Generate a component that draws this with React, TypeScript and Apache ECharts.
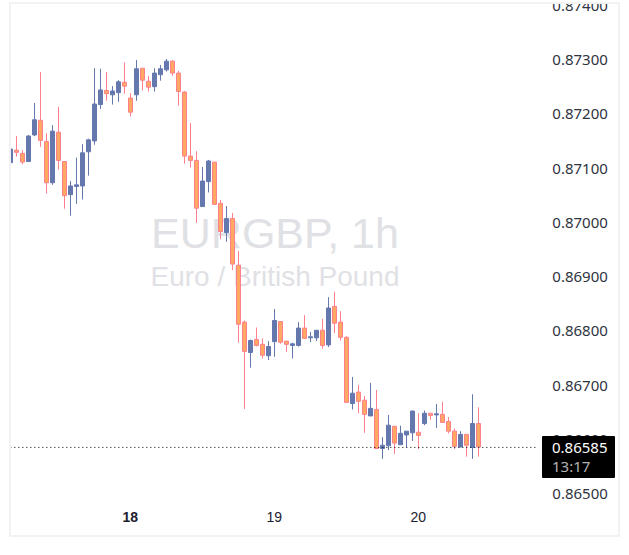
import { useEffect, useRef } from "react";
import * as echarts from "echarts";

const dayLabels: Record<number, string> = { 20: "18", 44: "19", 68: "20" };
const slotCount = 89;

const opens = [
  0.87109, 0.87132, 0.87126, 0.87111, 0.8716, 0.87187, 0.87148, 0.87072, 0.87165, 0.87111,
  0.8705, 0.87065, 0.87066, 0.87129, 0.87149, 0.87216, 0.87242, 0.87234, 0.87238, 0.87257,
  0.87228, 0.87234, 0.87283, 0.87259, 0.87249, 0.87271, 0.8728, 0.87296, 0.87274, 0.87239,
  0.87121, 0.87113, 0.87028, 0.87074, 0.8711, 0.87034, 0.8698, 0.87006, 0.8692, 0.86815,
  0.86759, 0.86783, 0.86774, 0.86753, 0.86779, 0.86816, 0.8678, 0.86772, 0.86772, 0.86804,
  0.86786, 0.86786, 0.868, 0.86773, 0.86844, 0.86815, 0.86787, 0.86665, 0.86686, 0.86671,
  0.86642, 0.86654, 0.86582, 0.86587, 0.86623, 0.86589, 0.86607, 0.86611, 0.86612, 0.86628,
  0.86647, 0.86644, 0.86645, 0.86632, 0.86614, 0.86585, 0.86608, 0.86584, 0.86628,
];
const closes = [
  0.87134, 0.87128, 0.8711, 0.87158, 0.87188, 0.8715, 0.87072, 0.87167, 0.87113, 0.87048,
  0.87066, 0.87068, 0.87127, 0.87151, 0.87217, 0.87243, 0.87236, 0.87241, 0.87258, 0.8725,
  0.87202, 0.87282, 0.87261, 0.87248, 0.87274, 0.87282, 0.87296, 0.87274, 0.8724, 0.87121,
  0.87113, 0.87025, 0.87075, 0.87112, 0.87032, 0.86982, 0.87006, 0.86922, 0.86811, 0.86761,
  0.86781, 0.86772, 0.86754, 0.8677, 0.86818, 0.86778, 0.86774, 0.86775, 0.86804, 0.86785,
  0.86788, 0.868, 0.86772, 0.86841, 0.86813, 0.86787, 0.86667, 0.86684, 0.86669, 0.86645,
  0.86656, 0.86582, 0.86588, 0.86625, 0.86592, 0.8661, 0.86614, 0.86651, 0.86606, 0.86647,
  0.86643, 0.86646, 0.8663, 0.86614, 0.86586, 0.86608, 0.86588, 0.86628, 0.86585,
];
const lows = [
  0.87103, 0.8712, 0.87106, 0.87111, 0.87158, 0.87138, 0.87052, 0.87068, 0.87096, 0.87024,
  0.87011, 0.87033, 0.87041, 0.87085, 0.87142, 0.87208, 0.87223, 0.87216, 0.87221, 0.87236,
  0.87194, 0.87223, 0.87242, 0.8724, 0.8724, 0.8726, 0.87277, 0.87269, 0.87214, 0.87107,
  0.871, 0.86998, 0.87028, 0.87054, 0.87032, 0.86968, 0.86963, 0.86911, 0.86777, 0.86655,
  0.86731, 0.8677, 0.86748, 0.86745, 0.86751, 0.86775, 0.8676, 0.86748, 0.8677, 0.86785,
  0.86778, 0.8678, 0.86766, 0.86769, 0.86795, 0.86781, 0.86667, 0.86654, 0.86647, 0.86611,
  0.86642, 0.86582, 0.86563, 0.86579, 0.86572, 0.86589, 0.86584, 0.86596, 0.86581, 0.86625,
  0.86635, 0.8662, 0.8663, 0.8661, 0.86581, 0.86584, 0.86567, 0.86563, 0.86567,
];
const highs = [
  0.87158, 0.87158, 0.87132, 0.8716, 0.87219, 0.87276, 0.87163, 0.87178, 0.87212, 0.87111,
  0.87075, 0.87118, 0.87143, 0.87153, 0.87283, 0.87282, 0.87276, 0.8725, 0.87261, 0.87294,
  0.87237, 0.87298, 0.87283, 0.87269, 0.87283, 0.87289, 0.873, 0.87298, 0.87278, 0.87241,
  0.87182, 0.8713, 0.87101, 0.87114, 0.8711, 0.8704, 0.87029, 0.87016, 0.86946, 0.86818,
  0.86783, 0.86805, 0.86785, 0.8678, 0.86839, 0.86816, 0.8678, 0.86777, 0.86815, 0.86828,
  0.86797, 0.868, 0.86821, 0.86861, 0.86871, 0.86835, 0.86789, 0.86714, 0.86699, 0.86679,
  0.86703, 0.8669, 0.86603, 0.86644, 0.86623, 0.86624, 0.86614, 0.86652, 0.86647, 0.86652,
  0.86647, 0.86664, 0.86668, 0.8664, 0.86619, 0.86614, 0.86608, 0.86682, 0.86658,
];

const lastPrice = 0.86585;
// where the dotted line sits on the picture, a hair under the printed price
const lastPriceLine = 0.86584;
const countdown = "13:17";
const symbolText = "EURGBP, 1h";
const symbolName = "Euro / British Pound";

const PRICE_FONT = "'Noto Sans', sans-serif";
const AXIS_TEXT = "#2e3440";

export default function App() {
  const ref = useRef<HTMLDivElement>(null);

  useEffect(() => {
    if (!ref.current) return;
    const chart = echarts.init(ref.current, undefined, { renderer: "svg" });

    const slots = Array.from({ length: slotCount }, (_, i) => dayLabels[i] ?? "");

    chart.setOption({
      animation: false,
      backgroundColor: "#ffffff",
      grid: {
        left: 7.33,
        top: 4.75,
        width: 534,
        height: 488.25,
        outerBoundsMode: "none",
      },
      xAxis: {
        type: "category",
        data: slots,
        boundaryGap: true,
        axisLine: { show: false },
        axisTick: { show: false },
        splitLine: { show: false },
        axisLabel: {
          interval: (i: number) => dayLabels[i] !== undefined,
          margin: 17,
          fontSize: 14,
          fontFamily: "'Liberation Sans', sans-serif",
          color: "#1c2030",
          formatter: (v: string) => (v === "18" ? `{b|${v}}` : v),
          rich: {
            b: {
              fontSize: 14,
              fontWeight: "bold",
              fontFamily: "'Liberation Sans', sans-serif",
              color: "#1c2030",
            },
          },
        },
      },
      yAxis: {
        type: "value",
        position: "right",
        min: 0.865,
        max: 0.874,
        interval: 0.001,
        scale: true,
        axisLine: { show: false },
        axisTick: { show: false },
        splitLine: { show: false },
        axisLabel: {
          margin: 11,
          fontSize: 15,
          fontFamily: PRICE_FONT,
          color: AXIS_TEXT,
          padding: [0, 0, 2, 0],
          formatter: (v: number) => v.toFixed(5),
        },
      },
      series: [
        {
          type: "candlestick",
          barWidth: 4,
          silent: true,
          clip: false,
          data: opens.map((o, i) => [o, closes[i], lows[i], highs[i]]),
          itemStyle: {
            color: "#6478ae",
            borderColor: "#6478ae",
            color0: "#ffa861",
            borderColor0: "#ff7f8e",
            borderWidth: 1,
          },
        },
        {
          type: "line",
          silent: true,
          symbol: "none",
          data: slots.map(() => lastPriceLine),
          lineStyle: { color: "#000000", type: [1, 3], width: 1 },
        },
      ],
      graphic: [
        {
          type: "text",
          z: 0,
          x: 275,
          y: 233,
          style: {
            text: symbolText,
            fontSize: 43,
            fontFamily: "'Liberation Sans', sans-serif",
            fill: "#dfe1e5",
            align: "center",
            verticalAlign: "middle",
          },
        },
        {
          type: "text",
          z: 0,
          x: 275,
          y: 276,
          style: {
            text: symbolName,
            fontSize: 28,
            fontFamily: "'Liberation Sans', sans-serif",
            fill: "#dfe1e5",
            align: "center",
            verticalAlign: "middle",
          },
        },
        // page margin and pane border sit on top of the clipped first candle and top label
        { type: "rect", z: 100, shape: { x: 0, y: 0, width: 9, height: 555 }, style: { fill: "#ffffff" } },
        { type: "rect", z: 100, shape: { x: 0, y: 0, width: 629, height: 2 }, style: { fill: "#ffffff" } },
        {
          type: "rect",
          z: 101,
          shape: { x: 10, y: 3, width: 609, height: 533 },
          style: { fill: "transparent", stroke: "#f2f2f2", lineWidth: 2 },
        },
        {
          type: "rect",
          z: 102,
          shape: { x: 542, y: 436, width: 73, height: 42, r: 1 },
          style: { fill: "#000000" },
        },
        {
          type: "text",
          z: 103,
          x: 552,
          y: 447,
          style: {
            text: lastPrice.toFixed(5),
            fontSize: 15,
            fontFamily: PRICE_FONT,
            fill: "#ffffff",
            verticalAlign: "middle",
          },
        },
        {
          type: "text",
          z: 103,
          x: 552,
          y: 466,
          style: {
            text: countdown,
            fontSize: 15,
            fontFamily: PRICE_FONT,
            fill: "#b4b4b4",
            verticalAlign: "middle",
          },
        },
      ],
    });

    return () => chart.dispose();
  }, []);

  return (
    <div
      ref={ref}
      style={{ position: "absolute", left: 0, top: 0, width: 629, height: 555 }}
    />
  );
}
